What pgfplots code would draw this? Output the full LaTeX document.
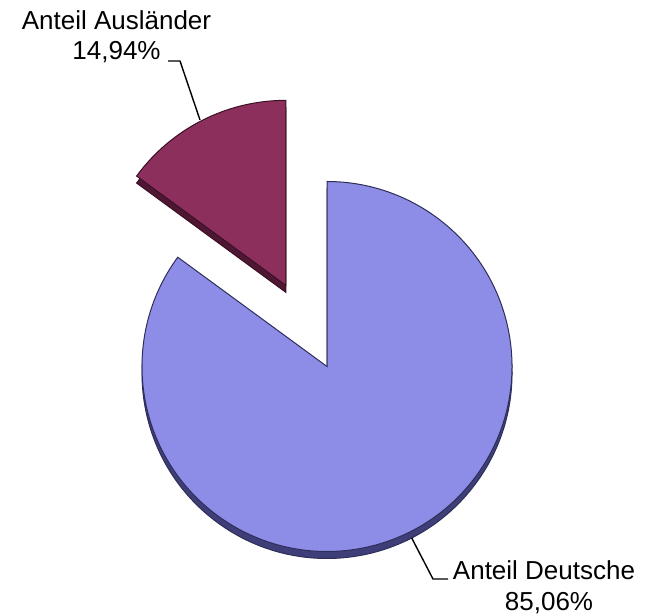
\documentclass[border=0pt]{standalone}
\usepackage{fontspec}
\setmainfont{Liberation Sans}
\usepackage{pgfplots}
\usepackage{pgfplotstable}
\pgfplotsset{compat=1.18}
\usetikzlibrary{calc}

\definecolor{dtface}{HTML}{8D8DE8}
\definecolor{dtrim}{HTML}{3E3E78}
\definecolor{dtline}{HTML}{2E2E5A}
\definecolor{auface}{HTML}{8C2F5D}
\definecolor{aurim}{HTML}{4F1733}
\definecolor{auline}{HTML}{3A1025}

% shares in percent
\pgfplotstableread{
group value
Deutsche 85.06
Auslaender 14.94
}\piedata
\pgfplotstablegetelem{0}{value}\of\piedata \let\vDeut\pgfplotsretval
\pgfplotstablegetelem{1}{value}\of\piedata \let\vAusl\pgfplotsretval

% slices start at 12 o'clock, Auslaender slice exploded along its middle
\pgfmathsetmacro\aEnd{90+3.6*\vAusl}
\pgfmathsetmacro\aMid{90+1.8*\vAusl}
\def\rad{92.5pt}
\def\depth{3.5pt}
\def\expl{45.5pt}

\newcommand\pct[1]{\pgfmathprintnumber[fixed,fixed zerofill,precision=2,use comma,assume math mode=true]{#1}\%}

\begin{document}
\begin{tikzpicture}
\begin{axis}[
  name=ax,
  scale only axis,
  width=323pt, height=307.5pt,
  xmin=0, xmax=646, ymin=0, ymax=615,
  hide axis, clip=false,
  font=\fontsize{13}{15}\selectfont,
]
% Deutsche: rim, then face
\fill[dtrim, draw=dtline, line width=0.5pt]
  ($(axis cs:327,248.5)+(0,-\depth)$) -- ++(\aEnd:\rad)
  arc[start angle=\aEnd, end angle=450, radius=\rad] -- cycle;
\fill[dtface, draw=dtline, line width=0.5pt]
  (axis cs:327,248.5) -- ++(\aEnd:\rad)
  arc[start angle=\aEnd, end angle=450, radius=\rad] -- cycle;
% Auslaender (exploded)
\fill[aurim, draw=auline, line width=0.5pt]
  ($(axis cs:327,248.5)+(\aMid:\expl)+(0,-\depth)$) -- ++(90:\rad)
  arc[start angle=90, end angle=\aEnd, radius=\rad] -- cycle;
\fill[auface, draw=auline, line width=0.5pt]
  ($(axis cs:327,248.5)+(\aMid:\expl)$) -- ++(90:\rad)
  arc[start angle=90, end angle=\aEnd, radius=\rad] -- cycle;

% labels and leader lines
\draw[black, line width=0.7pt] (axis cs:168,554) -- (axis cs:180,554) -- (axis cs:200,495);
\node[anchor=base, inner sep=0pt] at (axis cs:116.5,585) {Anteil Ausländer};
\node[anchor=base, inner sep=0pt] at (axis cs:116.5,555) {\pct{\vAusl}};

\draw[black, line width=0.7pt] (axis cs:411.7,77) -- (axis cs:433,36) -- (axis cs:448,36);
\node[anchor=base, inner sep=0pt] at (axis cs:544,36) {Anteil Deutsche};
\node[anchor=base, inner sep=0pt] at (axis cs:549,5) {\pct{\vDeut}};
\end{axis}
\pgfresetboundingbox
\path (ax.south west) rectangle (ax.north east);
\end{tikzpicture}
\end{document}
